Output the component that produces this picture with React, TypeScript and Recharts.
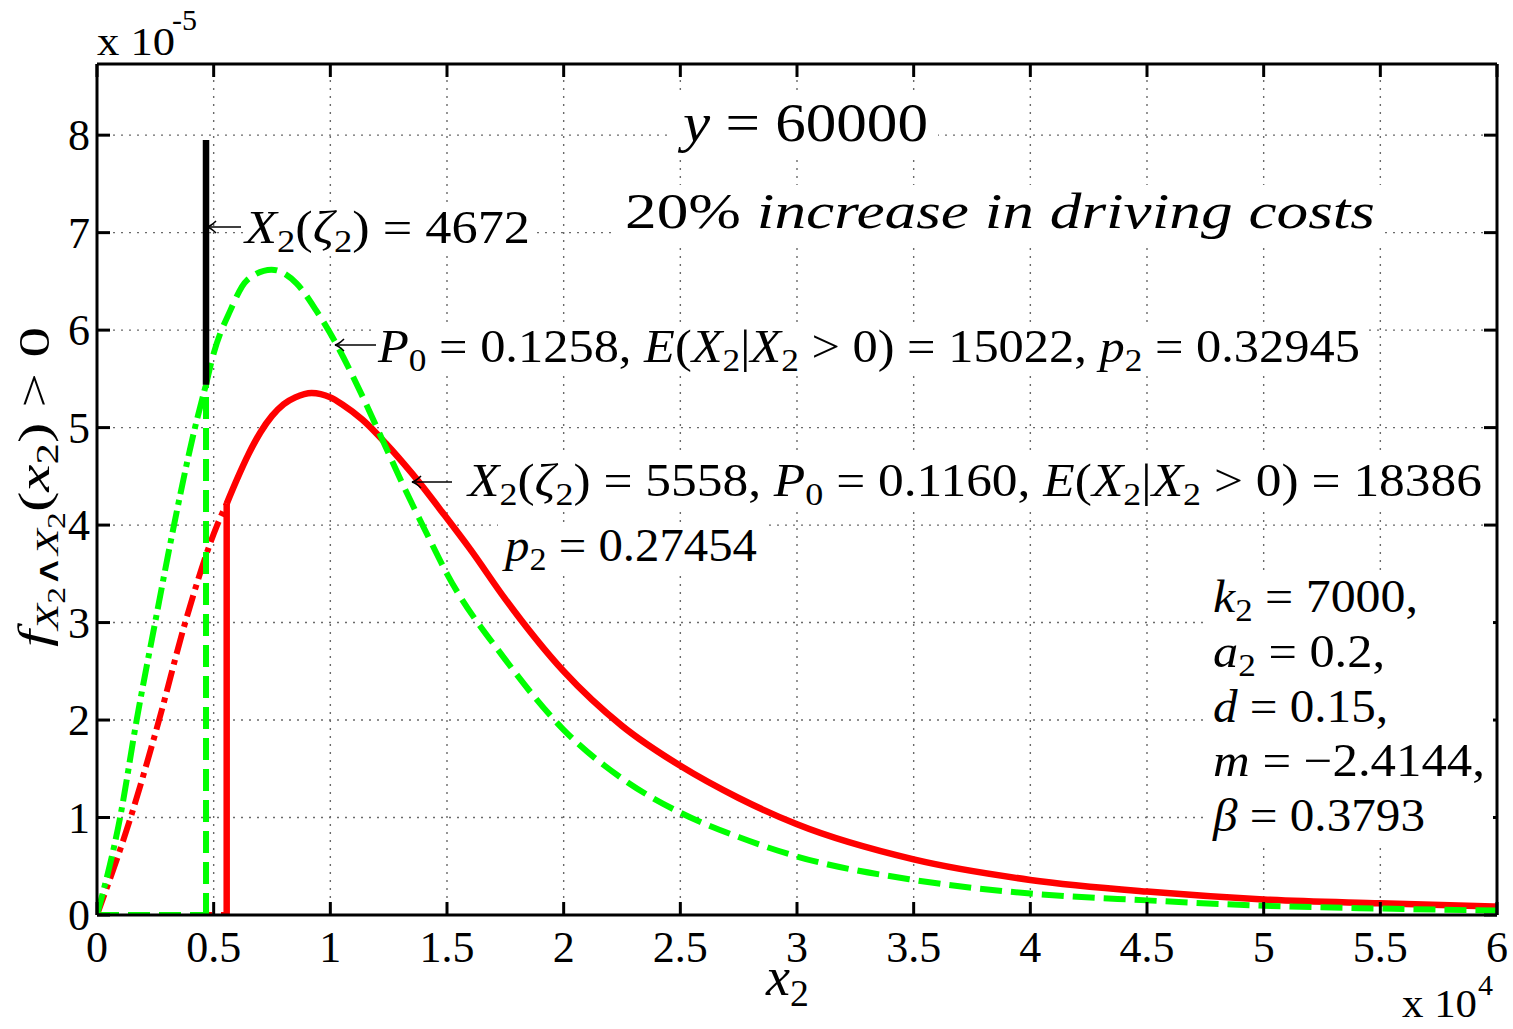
import React from 'react';
import { LineChart, Line, XAxis, YAxis, CartesianGrid } from 'recharts';

// x in raw units (axis shows x 10^4), y in units of 10^-5
const xTicks = [0, 5000, 10000, 15000, 20000, 25000, 30000, 35000, 40000, 45000, 50000, 55000, 60000];
const yTicks = [0, 1, 2, 3, 4, 5, 6, 7, 8];

const zetaGreen = 4672;
const zetaRed = 5558;

const pts = (rows: number[][]) => rows.map(([x, y]) => ({ x, y }));

// 20% increase case (green)
const greenRise = pts([[0, 0], [990, 1], [1700, 2], [2490, 3], [3300, 4], [4200, 5], [4672, 5.44]]);
const greenFloor = pts([[0, 0], [zetaGreen, 0]]);
const greenJump = pts([[zetaGreen, 0], [zetaGreen, 5.44]]);
const greenTail = pts([
  [4672, 5.44], [5000, 5.76], [5710, 6.2], [6420, 6.51], [7480, 6.62], [8550, 6.48], [9400, 6.2],
  [10250, 5.86], [11380, 5.32], [12240, 4.87], [13080, 4.43], [14200, 3.88], [15000, 3.5],
  [17500, 2.62], [20000, 1.9], [22500, 1.4], [25000, 1.05], [27500, 0.8], [30000, 0.6],
  [35000, 0.36], [40000, 0.22], [45000, 0.15], [50000, 0.095], [55000, 0.066], [60000, 0.045],
]);
const blackMark = pts([[zetaGreen, 5.44], [zetaGreen, 7.95]]);

// base case (red)
const redRise = pts([[0, 0], [1440, 1], [2660, 2], [3780, 3], [5150, 4], [5558, 4.22]]);
const redFloor = pts([[0, 0], [zetaRed, 0]]);
const redJump = pts([[zetaRed, 0], [zetaRed, 4.22]]);
const redTail = pts([
  [5558, 4.22], [6000, 4.47], [6500, 4.73], [7000, 4.95], [7500, 5.12], [8000, 5.24], [8500, 5.31],
  [9200, 5.355], [10000, 5.31], [10500, 5.24], [11380, 5.08], [12370, 4.84],
  [13500, 4.53], [14900, 4.1], [16000, 3.75], [17500, 3.24], [20000, 2.5], [22500, 1.94],
  [25000, 1.53], [27500, 1.2], [30000, 0.93], [35000, 0.57], [40000, 0.36], [45000, 0.24],
  [50000, 0.16], [55000, 0.12], [60000, 0.086],
]);

const FONT = '"Liberation Serif", "Times New Roman", serif';
const TICK = 13;
const GREEN = '#00ff00';
const RED = '#ff0000';

const fmtX = (v: number) => String(v / 10000);

function BottomTick(p: any) {
  const { x, y, payload } = p;
  return (
    <g>
      <line x1={x} x2={x} y1={y} y2={y - TICK} stroke="#000" strokeWidth={3} />
      <text x={x} y={y + 47} textAnchor="middle" fontFamily={FONT} fontSize={44} fill="#000">
        {fmtX(payload.value)}
      </text>
    </g>
  );
}
function TopTick(p: any) {
  const { x, y } = p;
  return <line x1={x} x2={x} y1={y} y2={y + TICK} stroke="#000" strokeWidth={3} />;
}
function LeftTick(p: any) {
  const { x, y, payload } = p;
  return (
    <g>
      <line x1={x} x2={x + TICK} y1={y} y2={y} stroke="#000" strokeWidth={3} />
      <text x={x - 7} y={y + 15} textAnchor="end" fontFamily={FONT} fontSize={44} fill="#000">
        {payload.value}
      </text>
    </g>
  );
}
function RightTick(p: any) {
  const { x, y } = p;
  return <line x1={x} x2={x - TICK} y1={y} y2={y} stroke="#000" strokeWidth={3} />;
}

type Part = [string, string];

// n normal, i italic, s sub, si italic sub, ss sub-sub
function MathText({ parts, x, y, fs, len, transform }: { parts: Part[]; x: number; y: number; fs: number; len?: number; transform?: string }) {
  let cur = 0;
  const spans = parts.map(([t, k], i) => {
    const level = k === 'ss' ? 2 : k === 's' || k === 'si' ? 1 : 0;
    const target = level === 0 ? 0 : level === 1 ? fs * 0.2 : fs * 0.36;
    const size = level === 0 ? fs : level === 1 ? fs * 0.7 : fs * 0.55;
    const dy = target - cur;
    cur = target;
    return (
      <tspan key={i} dy={dy} fontSize={size} fontStyle={k === 'i' || k === 'si' ? 'italic' : 'normal'}>
        {t}
      </tspan>
    );
  });
  return (
    <text
      x={x}
      y={y}
      transform={transform}
      fontFamily={FONT}
      fontSize={fs}
      fill="#000"
      textLength={len}
      lengthAdjust={len ? 'spacingAndGlyphs' : undefined}
      style={{ whiteSpace: 'pre' }}
    >
      {spans}
    </text>
  );
}

function Arrow({ x1, x2, y }: { x1: number; x2: number; y: number }) {
  return (
    <g stroke="#000" strokeWidth={1.6} fill="none">
      <line x1={x1} x2={x2} y1={y} y2={y} />
      <path d={`M ${x1 + 9} ${y - 6} Q ${x1 + 4} ${y - 1} ${x1} ${y} Q ${x1 + 4} ${y + 1} ${x1 + 9} ${y + 6}`} />
    </g>
  );
}

const labelA: Part[] = [['X', 'i'], ['2', 's'], ['(', 'n'], ['ζ', 'i'], ['2', 's'], [') = 4672', 'n']];
const labelB: Part[] = [
  ['P', 'i'], ['0', 's'], [' = 0.1258, ', 'n'], ['E', 'i'], ['(', 'n'], ['X', 'i'], ['2', 's'], ['|', 'n'],
  ['X', 'i'], ['2', 's'], [' > 0) = 15022, ', 'n'], ['p', 'i'], ['2', 's'], [' = 0.32945', 'n'],
];
const labelC: Part[] = [
  ['X', 'i'], ['2', 's'], ['(', 'n'], ['ζ', 'i'], ['2', 's'], [') = 5558, ', 'n'], ['P', 'i'], ['0', 's'],
  [' = 0.1160, ', 'n'], ['E', 'i'], ['(', 'n'], ['X', 'i'], ['2', 's'], ['|', 'n'], ['X', 'i'], ['2', 's'],
  [' > 0) = 18386', 'n'],
];
const labelD: Part[] = [['p', 'i'], ['2', 's'], [' = 0.27454', 'n']];
const params: { parts: Part[]; len: number }[] = [
  { parts: [['k', 'i'], ['2', 's'], [' = 7000,', 'n']], len: 205 },
  { parts: [['a', 'i'], ['2', 's'], [' = 0.2,', 'n']], len: 172 },
  { parts: [['d', 'i'], [' = 0.15,', 'n']], len: 175 },
  { parts: [['m', 'i'], [' = −2.4144,', 'n']], len: 272 },
  { parts: [['β', 'i'], [' = 0.3793', 'n']], len: 212 },
];
const yLabel: Part[] = [
  ['f', 'i'], ['X', 'si'], ['2', 'ss'], ['∧', 's'], ['X', 'si'], ['2', 'ss'], ['(', 'n'], ['x', 'i'], ['2', 's'], [') > 0', 'n'],
];

function Overlay() {
  return (
    <svg width={1513} height={1029} style={{ position: 'absolute', left: 0, top: 0, pointerEvents: 'none' }}>
      {/* axis multipliers */}
      <text x={97} y={55} fontFamily={FONT} fontSize={40} textLength={78} lengthAdjust="spacingAndGlyphs">x 10</text>
      <text x={172} y={30} fontFamily={FONT} fontSize={30}>-5</text>
      <text x={1402} y={1017} fontFamily={FONT} fontSize={40} textLength={75} lengthAdjust="spacingAndGlyphs">x 10</text>
      <text x={1478} y={995} fontFamily={FONT} fontSize={30}>4</text>

      {/* axis titles */}
      <MathText parts={[['x', 'i'], ['2', 's']]} x={766} y={995} fs={54} />
      <MathText parts={yLabel} x={0} y={0} fs={44} len={320} transform="translate(49,647) rotate(-90)" />

      {/* titles */}
      <rect x={672} y={95} width={266} height={60} fill="#fff" />
      <MathText parts={[['y', 'i'], [' = 60000', 'n']]} x={683} y={141} fs={54} len={245} />
      <rect x={615} y={185} width={770} height={60} fill="#fff" />
      <MathText parts={[['20% ', 'n'], ['increase in driving costs', 'i']]} x={625} y={228} fs={50} len={750} />

      {/* annotations */}
      <rect x={243} y={205} width={292} height={50} fill="#fff" />
      <Arrow x1={207} x2={241} y={227} />
      <MathText parts={labelA} x={245} y={243} fs={46} len={285} />

      <rect x={372} y={322} width={994} height={52} fill="#fff" />
      <Arrow x1={335} x2={376} y={345} />
      <MathText parts={labelB} x={378} y={362} fs={46} len={982} />

      <rect x={462} y={456} width={1030} height={52} fill="#fff" />
      <Arrow x1={412} x2={452} y={482} />
      <MathText parts={labelC} x={468} y={496} fs={46} len={1014} />

      <rect x={498} y={522} width={266} height={52} fill="#fff" />
      <MathText parts={labelD} x={505} y={561} fs={46} len={252} />

      <rect x={1205} y={570} width={288} height={275} fill="#fff" />
      {params.map((p, i) => (
        <MathText key={i} parts={p.parts} x={1213} y={612 + i * 54.8} fs={46} len={p.len} />
      ))}
    </svg>
  );
}

const line = { dot: false, isAnimationActive: false, strokeLinecap: 'butt' as const, dataKey: 'y', legendType: 'none' as const };

export default function App() {
  return (
    <div style={{ position: 'absolute', left: 0, top: 0, width: 1513, height: 1029, background: '#fff' }}>
      <div style={{ position: 'absolute', left: 0, top: 0 }}>
        <LineChart width={1513} height={1029} margin={{ top: 54, right: 6, bottom: 74, left: 57 }}>
          <CartesianGrid stroke="#6a6a6a" strokeWidth={1.4} strokeDasharray="2 6" />
          <XAxis
            type="number" dataKey="x" domain={[0, 60000]} ticks={xTicks} interval={0} allowDataOverflow
            height={40} tickSize={0} tickMargin={0} tick={BottomTick}
            axisLine={{ stroke: '#000', strokeWidth: 3 }}
          />
          <XAxis
            xAxisId="top" orientation="top" type="number" dataKey="x" domain={[0, 60000]} ticks={xTicks}
            interval={0} allowDataOverflow height={10} tickSize={0} tickMargin={0} tick={TopTick}
            axisLine={{ stroke: '#000', strokeWidth: 3 }}
          />
          <YAxis
            type="number" domain={[0, 8.73]} ticks={yTicks} interval={0} allowDataOverflow
            width={40} tickSize={0} tickMargin={0} tick={LeftTick}
            axisLine={{ stroke: '#000', strokeWidth: 3 }}
          />
          <YAxis
            yAxisId="right" orientation="right" type="number" domain={[0, 8.73]} ticks={yTicks} interval={0}
            allowDataOverflow width={10} tickSize={0} tickMargin={0} tick={RightTick}
            axisLine={{ stroke: '#000', strokeWidth: 3 }}
          />

          <Line {...line} data={redFloor} type="linear" stroke={RED} strokeWidth={6} strokeDasharray="22 9" />
          <Line {...line} data={greenFloor} type="linear" stroke={GREEN} strokeWidth={6} strokeDasharray="22 9" />
          <Line {...line} data={redRise} type="monotone" stroke={RED} strokeWidth={6} strokeDasharray="22 6 5 6" />
          <Line {...line} data={redJump} type="linear" stroke={RED} strokeWidth={6.5} />
          <Line {...line} data={redTail} type="monotone" stroke={RED} strokeWidth={6.5} />
          <Line {...line} data={greenRise} type="monotone" stroke={GREEN} strokeWidth={6} strokeDasharray="22 6 5 6" />
          <Line {...line} data={greenJump} type="linear" stroke={GREEN} strokeWidth={6} strokeDasharray="22 9" />
          <Line {...line} data={greenTail} type="monotone" stroke={GREEN} strokeWidth={6} strokeDasharray="22 9" />
          <Line {...line} data={blackMark} type="linear" stroke="#000" strokeWidth={6.5} />
        </LineChart>
      </div>
      <Overlay />
    </div>
  );
}
